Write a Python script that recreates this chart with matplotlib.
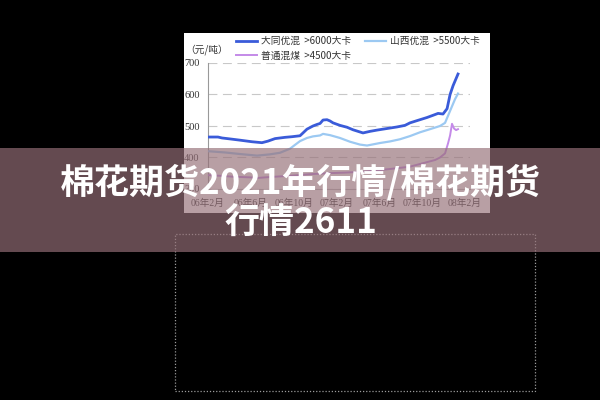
import matplotlib
matplotlib.use('Agg')
import matplotlib.pyplot as plt
from matplotlib.patches import Rectangle

# x values: months since Feb 2006
datong_x = [0, 0.93, 1.31, 2.05, 2.99, 4.11, 5.04, 5.60, 6.26, 7.19, 7.84, 8.59, 8.87, 9.24,
            9.80, 10.18, 10.46, 10.74, 11.11, 11.39, 11.67, 12.32, 12.98, 13.54, 14.19, 14.47,
            15.13, 15.78, 16.71, 17.65, 18.39, 18.86, 19.51, 20.45, 21.01, 21.48, 21.94, 22.32,
            22.60, 22.88, 23.34]
datong_y = [465, 465, 462, 459, 455, 450, 447, 452, 460, 464, 466, 469, 478, 490, 500, 505,
            508, 519, 520, 516, 510, 502, 496, 488, 481, 478, 483, 487, 492, 497, 502, 510,
            517, 527, 534, 540, 538, 555, 600, 628, 665]

shanxi_x = [0, 1.59, 2.99, 4.58, 5.79, 6.72, 7.66, 8.12, 8.59, 9.24, 9.80, 10.46, 10.74, 11.39,
            12.32, 13.26, 14.19, 14.85, 16.06, 16.99, 17.93, 18.86, 19.79, 20.73, 21.66, 22.13,
            22.60, 23.06, 23.34]
shanxi_y = [420, 416, 411, 406, 410, 415, 428, 440, 452, 462, 467, 470, 475, 471, 462, 450,
            441, 438, 446, 451, 458, 468, 480, 490, 500, 510, 548, 585, 603]

putong_x = [0, 1.12, 2.33, 3.92, 4.58, 5.79, 7.66, 9.52, 11.11, 12.79, 14.47, 16.06, 17.65,
            18.86, 20.07, 21.20, 21.66, 22.13, 22.41, 22.60, 22.78, 22.97, 23.16, 23.34]
putong_y = [344, 342, 339, 337, 335, 338, 342, 347, 350, 352, 355, 360, 366, 371, 382, 392,
            400, 413, 445, 470, 507, 492, 487, 490]

series_names = ['大同优混  >6000大卡', '山西优混  >5500大卡', '普通混煤  >4500大卡']
tick_months = [0, 4, 8, 12, 16, 20, 24]
tick_labels = ['06年2月', '06年6月', '06年10月', '07年2月', '07年6月', '07年10月', '08年2月']
y_ticks = [300, 400, 500, 600, 700]
unit_label = '（元/吨）'
title_lines = ['棉花期货2021年行情/棉花期货', '行情2611']

W, H = 600, 400
fig = plt.figure(figsize=(6, 4), dpi=100, facecolor='black')

def fx(px):
    return px / W

def fy(py):
    return 1 - py / H

# white chart panel
panel = fig.add_axes([fx(184), fy(213), fx(490) - fx(184), fy(33) - fy(213)])
panel.set_facecolor('white')
panel.set_xticks([])
panel.set_yticks([])
for s in panel.spines.values():
    s.set_visible(False)

ax = fig.add_axes([fx(208), fy(189), fx(470) - fx(208), fy(63) - fy(189)])
ax.patch.set_alpha(0)
serif = ['Liberation Serif', 'Noto Sans CJK SC']
cjk = ['Noto Sans CJK SC', 'DejaVu Sans']

l1, = ax.plot(datong_x, datong_y, color='#3a5bd9', lw=2.0, zorder=4)
l2, = ax.plot(shanxi_x, shanxi_y, color='#9cc9f2', lw=1.6, zorder=3)
l3, = ax.plot(putong_x, putong_y, color='#c48ae8', lw=1.4, zorder=3)

ax.set_xlim(0, 24.46)
ax.set_ylim(300, 700)
ax.set_yticks(y_ticks)
ax.set_yticklabels([str(v) for v in y_ticks], family=serif, fontsize=7.5, color='#333333')
ax.set_xticks(tick_months)
ax.set_xticklabels(tick_labels, family=serif, fontsize=7, color='#333333')
ax.tick_params(axis='y', length=0, pad=6)
ax.tick_params(axis='x', length=0, pad=7)
ax.grid(axis='y', color='#c8c8c8', lw=0.8, linestyle=(0, (8, 5)))
ax.set_axisbelow(True)
for k in ['top', 'right']:
    ax.spines[k].set_visible(False)
ax.spines['left'].set_color('#999999')
ax.spines['left'].set_linewidth(0.8)
ax.spines['bottom'].set_color('#bbbbbb')
ax.spines['bottom'].set_linewidth(0.8)

fig.text(fx(207), fy(50), unit_label, family=cjk, fontsize=7, color='#333333',
         ha='center', va='center')

leg = ax.legend([l1, l3, l2], [series_names[0], series_names[2], series_names[1]],
                ncol=2, loc='upper left', bbox_to_anchor=(fx(236), fy(36)),
                bbox_transform=fig.transFigure, frameon=False,
                prop={'family': cjk, 'size': 7}, handlelength=2.2, handletextpad=0.4,
                columnspacing=1.4, labelspacing=0.45, borderpad=0, borderaxespad=0)
for t in leg.get_texts():
    t.set_color('#333333')

# dotted rectangle below
fig.patches.append(Rectangle((fx(175), fy(391)), fx(535) - fx(175), fy(234) - fy(391),
                             transform=fig.transFigure, fill=False, edgecolor='#9a9a9a',
                             lw=0.9, linestyle=(0, (1, 1.5)), zorder=5))

# translucent banner
fig.patches.append(Rectangle((0, fy(252)), 1, fy(148) - fy(252), transform=fig.transFigure,
                             facecolor=(150/255, 112/255, 120/255), alpha=0.67,
                             edgecolor='none', zorder=10))

fig.text(0.5, fy(182), title_lines[0], family=cjk, fontsize=25.2, fontweight='heavy',
         color='white', ha='center', va='center', zorder=11)
fig.text(0.502, fy(223), title_lines[1], family=cjk, fontsize=25.2, fontweight='heavy',
         color='white', ha='center', va='center', zorder=11)

fig.savefig('out.png', dpi=100, facecolor='black')
